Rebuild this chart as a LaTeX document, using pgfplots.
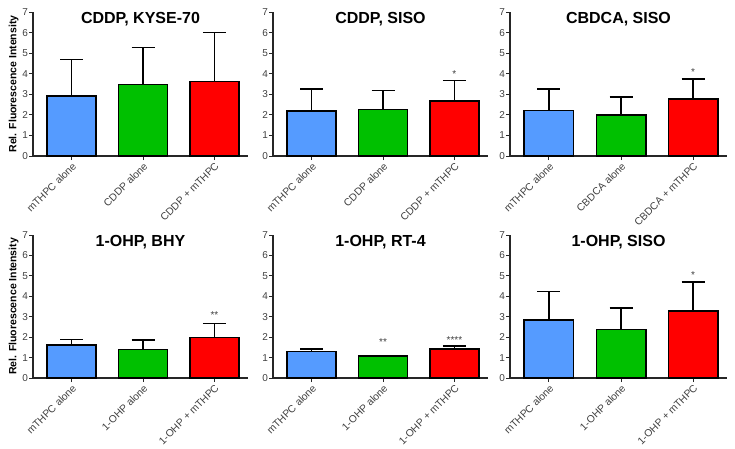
\documentclass[border=0pt]{standalone}
\usepackage{pgfplots}
\pgfplotsset{compat=1.18}
\usepackage{fontspec}
\setmainfont{Liberation Sans}
\definecolor{cblue}{RGB}{85,155,255}
\definecolor{cgreen}{RGB}{0,192,0}
\definecolor{cred}{RGB}{255,0,0}
\tikzset{sigstar/.style={font=\fontsize{10}{11}\selectfont, text=black!75}}
\pgfplotsset{
 panel/.style={
  scale only axis, width=215pt, height=144pt,
  xmin=-0.54, xmax=2.47, ymin=0, ymax=7,
  axis x line*=bottom, axis y line*=left,
  axis line style={line width=1.3pt, black!85, -},
  ytick={0,1,...,7}, xtick={0,1,2},
  tick align=outside, major tick length=4pt,
  tick style={line width=1pt, black!85},
  tick label style={font=\fontsize{10}{11}\selectfont, text=black!75},
  /pgf/number format/assume math mode=true,
  yticklabel style={xshift=2.5pt},
  x tick label style={rotate=45, anchor=north east, inner sep=1pt, font=\fontsize{10.3}{11}\selectfont},
  ybar, bar width=0.685, bar shift=0pt,
  every axis plot/.append style={draw=black, line width=1.6pt},
  error bars/y dir=plus, error bars/y explicit,
  error bars/error bar style={line width=1.6pt, black},
  error bars/error mark options={line width=1.6pt, mark size=11.5pt, black, rotate=90},
  clip=false,
  title style={at={(0.5,1)}, anchor=north, font=\fontsize{16}{18}\selectfont\bfseries, yshift=-3pt},
  ylabel style={font=\fontsize{10.5}{12}\selectfont\bfseries, yshift=-3pt},
 },
}
\begin{document}
\begin{tikzpicture}
\path[use as bounding box] (0,0) rectangle (735pt,448pt);
% Top row
\begin{axis}[panel, at={(33pt,292pt)}, anchor=south west, title={CDDP, KYSE-70},
  ylabel={Rel. Fluorescence Intensity},
  xticklabels={mTHPC alone, CDDP alone, CDDP + mTHPC}]
\addplot[fill=cblue] coordinates {(0,2.91) +- (0,1.79)};
\addplot[fill=cgreen] coordinates {(1,3.48) +- (0,1.80)};
\addplot[fill=cred] coordinates {(2,3.63) +- (0,2.37)};
\end{axis}
\begin{axis}[panel, at={(273pt,292pt)}, anchor=south west, title={CDDP, SISO},
  xticklabels={mTHPC alone, CDDP alone, CDDP + mTHPC}]
\addplot[fill=cblue] coordinates {(0,2.19) +- (0,1.07)};
\addplot[fill=cgreen] coordinates {(1,2.27) +- (0,0.92)};
\addplot[fill=cred] coordinates {(2,2.66) +- (0,1.02)};
\node[sigstar] at (axis cs:2,4.0) {*};
\end{axis}
\begin{axis}[panel, at={(510pt,292pt)}, anchor=south west, width=217pt, title={CBDCA, SISO},
  xticklabels={mTHPC alone, CBDCA alone, CBDCA + mTHPC}]
\addplot[fill=cblue] coordinates {(0,2.22) +- (0,1.04)};
\addplot[fill=cgreen] coordinates {(1,2.00) +- (0,0.87)};
\addplot[fill=cred] coordinates {(2,2.77) +- (0,0.97)};
\node[sigstar] at (axis cs:2,4.1) {*};
\end{axis}
% Bottom row
\begin{axis}[panel, at={(33pt,70pt)}, anchor=south west, height=143pt, title={1-OHP, BHY},
  ylabel={Rel. Fluorescence Intensity},
  xticklabels={mTHPC alone, 1-OHP alone, 1-OHP + mTHPC}]
\addplot[fill=cblue] coordinates {(0,1.62) +- (0,0.27)};
\addplot[fill=cgreen] coordinates {(1,1.39) +- (0,0.46)};
\addplot[fill=cred] coordinates {(2,1.98) +- (0,0.69)};
\node[sigstar] at (axis cs:2,3.1) {**};
\end{axis}
\begin{axis}[panel, at={(273pt,70pt)}, anchor=south west, height=143pt, title={1-OHP, RT-4},
  xticklabels={mTHPC alone, 1-OHP alone, 1-OHP + mTHPC}]
\addplot[fill=cblue] coordinates {(0,1.30) +- (0,0.11)};
\addplot[fill=cgreen] coordinates {(1,1.08) +- (0,0.02)};
\addplot[fill=cred] coordinates {(2,1.41) +- (0,0.16)};
\node[sigstar] at (axis cs:1,1.75) {**};
\node[sigstar] at (axis cs:2,1.86) {****};
\end{axis}
\begin{axis}[panel, at={(510pt,70pt)}, anchor=south west, width=217pt, height=143pt, title={1-OHP, SISO},
  xticklabels={mTHPC alone, 1-OHP alone, 1-OHP + mTHPC}]
\addplot[fill=cblue] coordinates {(0,2.84) +- (0,1.40)};
\addplot[fill=cgreen] coordinates {(1,2.37) +- (0,1.07)};
\addplot[fill=cred] coordinates {(2,3.28) +- (0,1.42)};
\node[sigstar] at (axis cs:2,5.05) {*};
\end{axis}
\end{tikzpicture}
\end{document}
